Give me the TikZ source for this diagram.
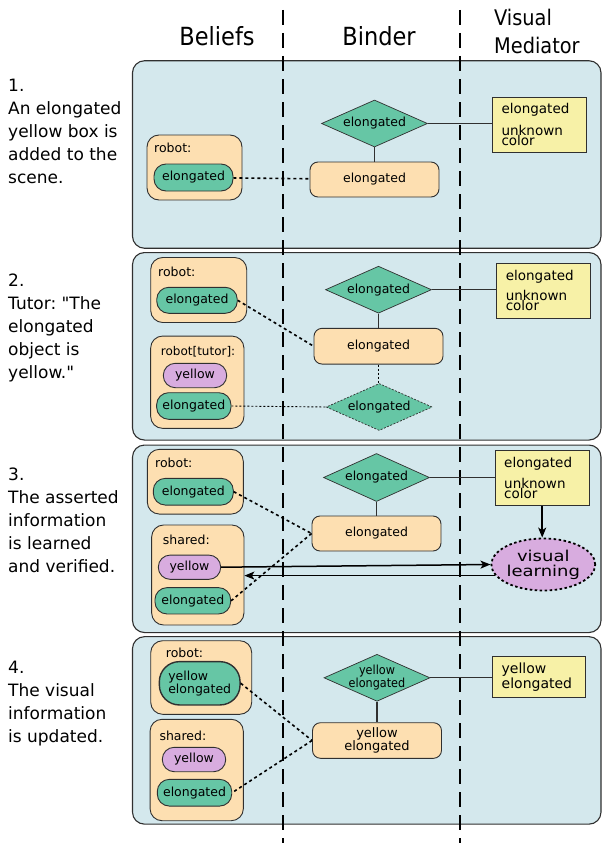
\documentclass[tikz,border=0pt]{standalone}
\usepackage{fontspec}
\setmainfont{DejaVu Sans}
\newfontfamily\stepfont{DejaVu Sans}
\newfontfamily\headfont{DejaVu Sans Condensed}
\newfontfamily\widefont{DejaVu Sans}[FakeStretch=1.2]
\usetikzlibrary{shapes.geometric,arrows.meta}

\definecolor{panelblue}{HTML}{D4E8ED}
\definecolor{beliefpeach}{HTML}{FDDFB1}
\definecolor{featgreen}{HTML}{66C6A5}
\definecolor{featlilac}{HTML}{D8ACDF}
\definecolor{medyellow}{HTML}{F7F1A7}
\definecolor{edgegray}{HTML}{303030}

\tikzset{
    panel/.style={draw=edgegray, line width=1.1pt, fill=panelblue, rounded corners=12pt, inner sep=0pt},
    belief/.style={draw=edgegray, line width=0.9pt, fill=beliefpeach, rounded corners=12pt, inner sep=0pt},
    feat/.style={draw=edgegray, line width=0.9pt, fill=featgreen, rounded corners=12pt, inner sep=0pt, font=\fontsize{12.5}{13}\selectfont},
    colfeat/.style={feat, fill=featlilac},
    union/.style={diamond, aspect=2.3, draw=edgegray, line width=0.7pt, fill=featgreen, inner sep=0pt, minimum width=106pt, minimum height=47pt, font=\fontsize{12.5}{13}\selectfont},
    proxy/.style={draw=edgegray, line width=0.9pt, fill=beliefpeach, rounded corners=8pt, inner sep=0pt, minimum width=129pt, minimum height=35pt, font=\fontsize{12.5}{12}\selectfont, align=center},
    medbox/.style={draw=edgegray, line width=0.9pt, fill=medyellow, inner xsep=9pt, inner ysep=0pt, text width=76pt, align=left, minimum height=55pt, font=\fontsize{13.5}{13}\selectfont},
    learn/.style={ellipse, draw=black, line width=1.8pt, dash pattern=on 2.5pt off 2.5pt, fill=featlilac, inner sep=0pt, minimum width=100pt, minimum height=52pt, align=center, font=\widefont\fontsize{15}{15}\selectfont},
    lbl/.style={anchor=west, inner sep=0pt, font=\fontsize{12.5}{13}\selectfont},
    link/.style={draw=edgegray, line width=1.1pt},
    bindlink/.style={line width=1.6pt, dash pattern=on 3pt off 3pt},
    weaklink/.style={line width=0.9pt, dash pattern=on 2pt off 2pt},
    flow/.style={line width=1.5pt, -{Stealth[length=10pt,width=8pt,inset=2.5pt]}},
    divider/.style={line width=1.6pt, dash pattern=on 15pt off 8pt},
    head/.style={inner sep=0pt, font=\headfont\fontsize{25}{28}\selectfont, align=center},
    steptext/.style={anchor=north west, inner sep=0pt, align=left, font=\stepfont\fontsize{17}{23}\selectfont}
}

\begin{document}
\frenchspacing
\begin{tikzpicture}[x=1pt,y=-1pt]
            \useasboundingbox (0,0) rectangle (602,843);

            \node[panel, minimum width=468.5pt, minimum height=187.5pt] (panelA) at (366.75,154.5) {};
            \node[panel, minimum width=468.5pt, minimum height=187.5pt] (panelB) at (366.75,346.3) {};
            \node[panel, minimum width=468.5pt, minimum height=187.5pt] (panelC) at (366.75,538.8) {};
            \node[panel, minimum width=468.5pt, minimum height=187.5pt] (panelD) at (366.75,730.4) {};

            \draw[divider] (283,10) -- (283,843);
            \draw[divider] (460,10) -- (460,843);

            \node[head] (hBeliefs) at (217,36.5) {Beliefs};
            \node[head] (hBinder) at (379,36.5) {Binder};
            \node[head, anchor=west, align=left, font=\headfont\fontsize{21.5}{28}\selectfont] (hMediator) at (494,31.5) {Visual\\Mediator};

            \node[steptext] (stepA) at (8,79) {1.\\An elongated\\yellow box is\\added to the\\scene.};
            \node[steptext] (stepB) at (8,274) {2.\\Tutor: "The\\elongated\\object is\\yellow."};
            \node[steptext] (stepC) at (8,468) {3.\\The asserted\\information\\is learned\\and verified.};
            \node[steptext] (stepD) at (8,661) {4.\\The visual\\information\\is updated.};

            \node[belief, minimum width=95pt, minimum height=65pt] (robotA) at (194.5,167.5) {};
            \node[lbl] (robotAlbl) at (154,148) {robot:};
            \node[feat, minimum width=79pt, minimum height=27pt] (featA) at (193.5,177.5) {elongated};
            \node[union] (unionA) at (374.5,123.5) {elongated};
            \node[proxy] (proxyA) at (374.5,179.5) {elongated};
            \node[medbox] (medA) at (539.5,124.5) {elongated\\[8pt]unknown\\[-3.7pt]color};

            \draw[link] (unionA) -- (proxyA);
            \draw[link] (unionA.east) -- (unionA.east -| medA.west);
            \draw[bindlink] (featA) -- (proxyA);

            \node[belief, minimum width=96pt, minimum height=65pt] (robotB) at (198.7,290) {};
            \node[lbl] (robotBlbl) at (158,271.5) {robot:};
            \node[feat, minimum width=80.5pt, minimum height=26pt] (featB) at (197,300.3) {elongated};
            \node[belief, minimum width=93.3pt, minimum height=92.3pt] (tutorB) at (197.3,382.2) {};
            \node[lbl, font=\fontsize{12}{13}\selectfont] (tutorBlbl) at (160.7,351.7) {robot[tutor]:};
            \node[colfeat, minimum width=63.4pt, minimum height=24.4pt] (colB) at (195,375.5) {yellow};
            \node[feat, minimum width=74.3pt, minimum height=26.6pt] (featBt) at (193.8,406) {elongated};
            \node[union] (unionB) at (378.5,289.7) {elongated};
            \node[proxy, minimum height=35.7pt] (proxyB) at (378.5,346.2) {elongated};
            \node[union, dash pattern=on 2pt off 1.5pt] (ghostB) at (379.2,407) {elongated};
            \node[medbox] (medB) at (543.8,290.8) {elongated\\[6pt]unknown\\[-3pt]color};

            \draw[link] (unionB) -- (proxyB);
            \draw[link] (unionB.east) -- (unionB.east -| medB.west);
            \draw[bindlink] (featB.east) -- (proxyB.west);
            \draw[weaklink] (featBt.east) -- (ghostB.west);
            \draw[weaklink] (proxyB.south) -- (proxyB.south |- ghostB.north);

            \node[belief, minimum width=96pt, minimum height=64.7pt] (robotC) at (195.3,481.7) {};
            \node[lbl] (robotClbl) at (155,462.7) {robot:};
            \node[feat, minimum width=80pt, minimum height=26.7pt] (featC) at (193.3,491.7) {elongated};
            \node[belief, minimum width=92.3pt, minimum height=100pt] (sharedC) at (197.8,575) {};
            \node[lbl] (sharedClbl) at (162.7,540) {shared:};
            \node[colfeat, minimum width=62.4pt, minimum height=24.3pt] (colC) at (189.5,567.2) {yellow};
            \node[feat, minimum width=75.7pt, minimum height=26.3pt] (featCs) at (192.8,600.8) {elongated};
            \node[union, minimum height=48pt] (unionC) at (376.5,477.5) {elongated};
            \node[proxy] (proxyC) at (376.5,533.5) {elongated};
            \node[medbox] (medC) at (542.2,478.3) {elongated\\[7pt]unknown\\[-3pt]color};
            \node[learn] (learnC) at (543.3,564.5) {visual\\learning};

            \draw[link] (unionC) -- (proxyC);
            \draw[link] (unionC.east) -- (unionC.east -| medC.west);
            \draw[bindlink] (featC.east) -- (proxyC.west);
            \draw[bindlink] (proxyC.west) -- (featCs.east);
            \draw[flow] (medC.south) -- (medC.south |- learnC.north);
            \draw[flow] (colC.east) -- (learnC.west);
            \draw[flow] (learnC.193) -- (learnC.193 -| sharedC.east);

            \node[belief, minimum width=101pt, minimum height=73.6pt] (robotD) at (201.2,677.5) {};
            \node[lbl] (robotDlbl) at (165.7,653.3) {robot:};
            \node[feat, minimum width=80.7pt, minimum height=43.3pt, rounded corners=20pt, line width=1.4pt, align=left, font=\fontsize{12.5}{13.3}\selectfont] (featD) at (199.7,683.3) {yellow\\elongated};
            \node[belief, minimum width=93.3pt, minimum height=101.4pt] (sharedD) at (196.7,770) {};
            \node[lbl] (sharedDlbl) at (159.3,736) {shared:};
            \node[colfeat, minimum width=63.4pt, minimum height=24.4pt] (colD) at (194,759.5) {yellow};
            \node[feat, minimum width=74.4pt, minimum height=26.7pt] (featDs) at (194.5,792.7) {elongated};
            \node[union] (unionD) at (377,677.8) {};
            \node[inner sep=0pt, align=center, font=\headfont\fontsize{12.5}{12.7}\selectfont] (unionDtxt) at (unionD) {yellow\\elongated};
            \node[proxy, minimum height=35.6pt, font=\fontsize{13}{12}\selectfont] (proxyD) at (377,740.5) {yellow\\elongated};
            \node[medbox, minimum height=41.7pt, text width=75pt, font=\fontsize{14}{15}\selectfont] (medD) at (539.2,676.8) {yellow\\elongated};

            \draw[link] (unionD) -- (proxyD);
            \draw[link] (unionD.east) -- (unionD.east -| medD.west);
            \draw[bindlink] (featD.east) -- (proxyD.west);
            \draw[bindlink] (proxyD.west) -- (featDs.east);
\end{tikzpicture}
\end{document}
